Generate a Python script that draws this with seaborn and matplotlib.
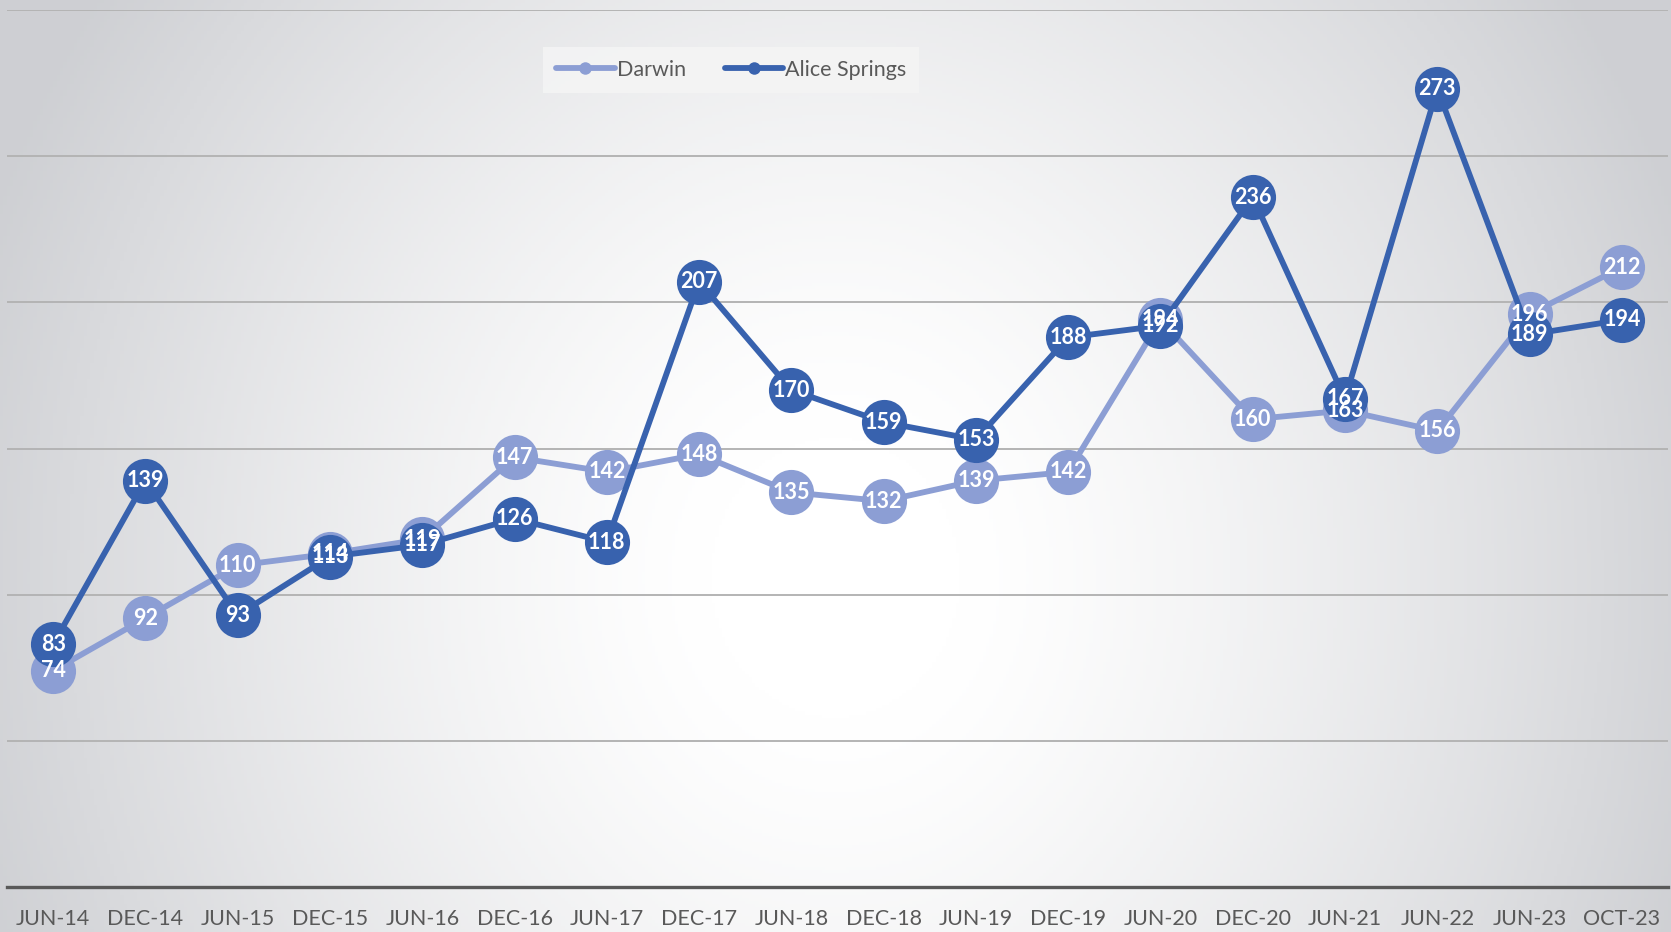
import numpy as np
import pandas as pd
import matplotlib
matplotlib.use("Agg")
import matplotlib.pyplot as plt
from matplotlib.lines import Line2D
import seaborn as sns

# data
periods = ["JUN-14", "DEC-14", "JUN-15", "DEC-15", "JUN-16", "DEC-16", "JUN-17", "DEC-17",
           "JUN-18", "DEC-18", "JUN-19", "DEC-19", "JUN-20", "DEC-20", "JUN-21", "JUN-22",
           "JUN-23", "OCT-23"]
darwin = [74, 92, 110, 114, 119, 147, 142, 148, 135, 132, 139, 142, 194, 160, 163, 156, 196, 212]
alice_springs = [83, 139, 93, 113, 117, 126, 118, 207, 170, 159, 153, 188, 192, 236, 167, 273, 189, 194]

series_names = ["Darwin", "Alice Springs"]
series_colors = {"Darwin": "#8C9ED4", "Alice Springs": "#3862AE"}

df = pd.DataFrame({
    "x": list(range(len(periods))) * 2,
    "value": darwin + alice_springs,
    "series": ["Darwin"] * len(darwin) + ["Alice Springs"] * len(alice_springs),
})

sns.set_theme(style="white")
plt.rcParams["font.family"] = ["Lato", "DejaVu Sans"]

fig = plt.figure(figsize=(16.71, 9.32), dpi=100)

# radial gradient background (white centre, grey edges)
bg = fig.add_axes([0, 0, 1, 1], zorder=-10)
yy, xx = np.mgrid[0:1:300j, 0:1:500j]
dist = np.sqrt(((xx - 0.5) / 0.62) ** 2 + ((yy - 0.62) / 1.25) ** 2)
shade = np.clip((dist - 0.12) / 0.75, 0, 1) ** 1.3
c_in = np.array([1.0, 1.0, 1.0])
c_out = np.array([0.81, 0.815, 0.83])
img = c_in[None, None, :] * (1 - shade[..., None]) + c_out[None, None, :] * shade[..., None]
bg.imshow(img, extent=[0, 1, 0, 1], aspect="auto", origin="upper")
bg.axis("off")

ax = fig.add_axes([7 / 1671, 45 / 932, 1661 / 1671, 877 / 932])
ax.patch.set_alpha(0)

for name in series_names:
    sub = df[df["series"] == name]
    sns.lineplot(data=sub, x="x", y="value", ax=ax, color=series_colors[name],
                 linewidth=4.2, marker="o", markersize=32.5, markeredgewidth=0,
                 legend=False, zorder=3)

for name, vals in zip(series_names, [darwin, alice_springs]):
    for i, v in enumerate(vals):
        ax.text(i, v, str(v), ha="center", va="center", color="white",
                fontsize=15.5, fontweight="bold", zorder=5)

ax.set_xlim(-0.5, len(periods) - 0.5)
ax.set_ylim(0, 300)
ax.set_yticks(np.arange(0, 301, 50))
ax.yaxis.grid(True, color="#B4B4B4", linewidth=1.4)
ax.set_axisbelow(True)
ax.tick_params(axis="y", left=False, labelleft=False)
ax.set_xticks(range(len(periods)))
ax.set_xticklabels(periods, fontsize=15.5, color="#595959")
ax.tick_params(axis="x", bottom=False, pad=10)
ax.set_xlabel("")
ax.set_ylabel("")
for side in ["top", "right", "left"]:
    ax.spines[side].set_visible(False)
ax.spines["bottom"].set_color("#595959")
ax.spines["bottom"].set_linewidth(2.4)

handles = [Line2D([0], [0], color=series_colors[n], linewidth=4.2, marker="o",
                  markersize=9, markeredgewidth=0) for n in series_names]
leg = fig.legend(handles, series_names, loc="center", bbox_to_anchor=(0.4376, 0.925),
                 ncol=2, frameon=True, fontsize=15.5, handlelength=2.7, handletextpad=0.1,
                 columnspacing=1.8, borderpad=0.6, borderaxespad=0, fancybox=False)
leg.get_frame().set_facecolor("#F4F4F4")
leg.get_frame().set_edgecolor("none")
leg.get_frame().set_alpha(0.9)
for t in leg.get_texts():
    t.set_color("#595959")

fig.savefig("out.png", dpi=100)
